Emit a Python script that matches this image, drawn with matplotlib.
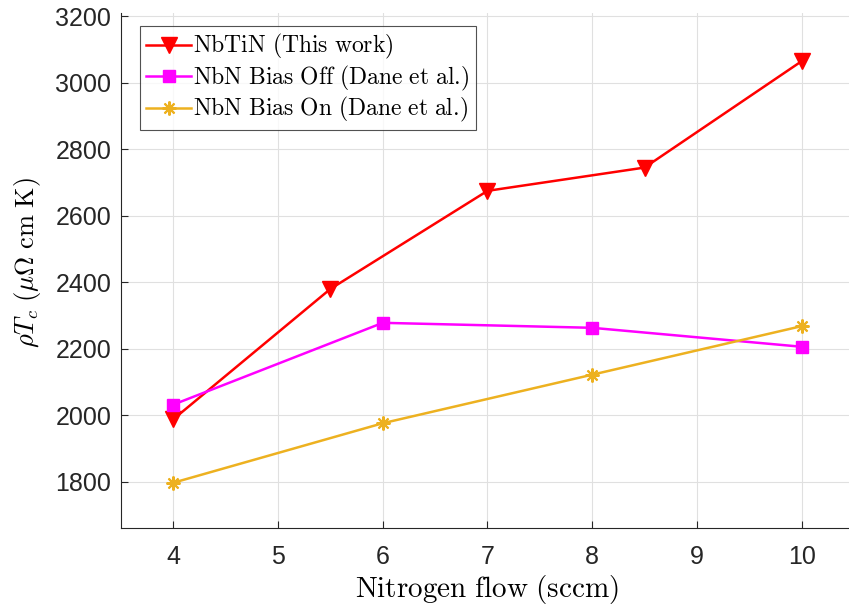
import matplotlib
matplotlib.use("Agg")
import matplotlib.pyplot as plt

plt.rcParams['mathtext.fontset'] = 'cm'
plt.rcParams['font.family'] = ['Liberation Sans', 'DejaVu Sans']

# data
x_nbtin = [4, 5.5, 7, 8.5, 10]
y_nbtin = [1988, 2380, 2675, 2745, 3065]
x_off = [4, 6, 8, 10]
y_off = [2032, 2278, 2263, 2206]
x_on = [4, 6, 8, 10]
y_on = [1797, 1976, 2122, 2268]

labels = [r'$\mathrm{NbTiN\ (This\ work)}$',
          r'$\mathrm{NbN\ Bias\ Off\ (Dane\ et\ al.\!)}$',
          r'$\mathrm{NbN\ Bias\ On\ (Dane\ et\ al.\!)}$']
xticks = [4, 5, 6, 7, 8, 9, 10]
yticks = [1800, 2000, 2200, 2400, 2600, 2800, 3000, 3200]

fig = plt.figure(figsize=(8.49, 6.12), dpi=100)
ax = fig.add_axes([0.1425, 0.1368, 0.8634, 0.842])

ax.plot(x_nbtin, y_nbtin, color='#ff0000', lw=1.8, marker='v', ms=12,
        label=labels[0])
ax.plot(x_off, y_off, color='#ff00ff', lw=1.8, marker='s', ms=9,
        label=labels[1])
ax.plot(x_on, y_on, color='#edb120', lw=1.8, marker=(8, 2, 0), ms=10,
        mew=1.5, label=labels[2])

ax.set_xlim(3.5, 10.5)
ax.set_ylim(1660, 3210)
ax.set_xticks(xticks)
ax.set_yticks(yticks)
ax.tick_params(direction='in', length=5, labelsize=18, colors='#262626')
ax.tick_params(axis='x', pad=12)
ax.tick_params(axis='y', pad=7)
ax.grid(True, color='#e0e0e0', lw=0.8)
ax.set_axisbelow(True)
for s in ['top', 'right']:
    ax.spines[s].set_visible(False)
for s in ['left', 'bottom']:
    ax.spines[s].set_color('#262626')

ax.set_xlabel(r'$\mathrm{Nitrogen\ flow\ (sccm)}$', fontsize=21, labelpad=3)
ax.set_ylabel(r'$\rho T_c\ (\mu\Omega\ \mathrm{cm\ K})$', fontsize=19)
ax.yaxis.set_label_coords(-0.106, 0.515)

leg = ax.legend(loc='upper left', bbox_to_anchor=(0.02, 0.983), fontsize=17,
                frameon=True, fancybox=False, edgecolor='#262626',
                handlelength=1.9, handletextpad=0.1, borderpad=0.25,
                labelspacing=0.1, borderaxespad=0.2)
leg.get_frame().set_linewidth(0.8)

fig.savefig('out.png', dpi=100)
